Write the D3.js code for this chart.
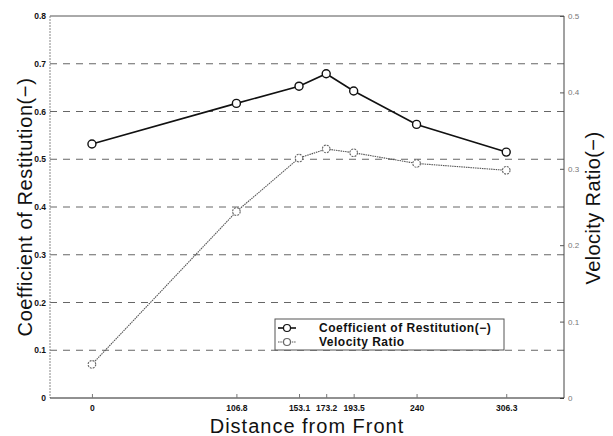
<!DOCTYPE html>
<html>
<head>
<meta charset="utf-8">
<script src="https://cdn.jsdelivr.net/npm/d3@7"></script>
<style>
  body { margin: 0; background: #fff; }
  svg { display: block; font-family: "Liberation Sans", Arial, sans-serif; }
</style>
</head>
<body>
<svg id="chart" width="613" height="436"></svg>
<script>
// chart values
var distances = [0, 106.8, 153.1, 173.2, 193.5, 240, 306.3];
var restitution = [0.532, 0.617, 0.653, 0.679, 0.643, 0.573, 0.515];
var velocityRatio = [0.044, 0.244, 0.314, 0.326, 0.321, 0.307, 0.298];
var leftTicks = [0, 0.1, 0.2, 0.3, 0.4, 0.5, 0.6, 0.7, 0.8];
var rightTicks = [0, 0.1, 0.2, 0.3, 0.4, 0.5];
var seriesNames = ["Coefficient of Restitution(\u2212)", "Velocity Ratio"];

var svg = d3.select("#chart");
var plot = { left: 50, right: 564, top: 16, bottom: 398 };

var x = d3.scaleLinear().domain([-31, 349]).range([plot.left, plot.right]);
var yLeft = d3.scaleLinear().domain([0, 0.8]).range([plot.bottom, plot.top]);
var yRight = d3.scaleLinear().domain([0, 0.5]).range([plot.bottom, plot.top]);

// dashed grid lines
svg.append("g")
	.selectAll("line")
	.data(leftTicks.filter(function(t) { return t > 0 && t < 0.8; }))
	.enter()
	.append("line")
	.attr("x1", plot.left).attr("x2", plot.right)
	.attr("y1", function(t) { return yLeft(t); })
	.attr("y2", function(t) { return yLeft(t); })
	.attr("stroke", "#666")
	.attr("stroke-width", 1)
	.attr("stroke-dasharray", "7,6");

// frame
svg.append("line").attr("x1", plot.left).attr("x2", plot.right)
	.attr("y1", plot.top).attr("y2", plot.top).attr("stroke", "#555");
svg.append("line").attr("x1", plot.left).attr("x2", plot.left)
	.attr("y1", plot.top).attr("y2", plot.bottom).attr("stroke", "#888")
	.attr("stroke-dasharray", "2,1");
svg.append("line").attr("x1", plot.right).attr("x2", plot.right)
	.attr("y1", plot.top).attr("y2", plot.bottom).attr("stroke", "#444");

// left axis
var leftAxis = svg.append("g")
	.attr("transform", "translate(" + plot.left + ",0)")
	.call(d3.axisLeft(yLeft).tickValues(leftTicks).tickSize(0).tickPadding(4)
		.tickFormat(function(d) { return d === 0 ? "0" : d3.format(".1f")(d); }));
leftAxis.select(".domain").remove();
leftAxis.selectAll("text").attr("font-size", 8.5).attr("fill", "#111").attr("font-weight", "bold");

// right axis
var rightAxis = svg.append("g")
	.attr("transform", "translate(" + plot.right + ",0)")
	.call(d3.axisRight(yRight).tickValues(rightTicks).tickSize(-4).tickPadding(4)
		.tickFormat(function(d) { return d === 0 ? "0" : d3.format(".1f")(d); }));
rightAxis.select(".domain").remove();
rightAxis.selectAll("line").attr("stroke", "#555");
rightAxis.selectAll("text").attr("font-size", 8).attr("fill", "#777");

// bottom axis
var bottomAxis = svg.append("g")
	.attr("transform", "translate(0," + plot.bottom + ")")
	.call(d3.axisBottom(x).tickValues(distances).tickSize(-4).tickPadding(7)
		.tickFormat(function(d) { return String(d); }));
bottomAxis.select(".domain").attr("stroke", "#222").attr("d", "M" + plot.left + ",0H" + plot.right);
bottomAxis.selectAll("line").attr("stroke", "#777");
bottomAxis.selectAll("text").attr("font-size", 8.5).attr("fill", "#111").attr("font-weight", "bold");

// series
var points = distances.map(function(d, i) {
	return { x: d, cor: restitution[i], vr: velocityRatio[i] };
});

var corLine = d3.line()
	.x(function(p) { return x(p.x); })
	.y(function(p) { return yLeft(p.cor); });
var vrLine = d3.line()
	.x(function(p) { return x(p.x); })
	.y(function(p) { return yRight(p.vr); });

svg.append("path").datum(points)
	.attr("d", vrLine).attr("fill", "none")
	.attr("stroke", "#555").attr("stroke-width", 1.1)
	.attr("stroke-dasharray", "1.5,0.8");
svg.append("g").selectAll("circle").data(points).enter()
	.append("circle")
	.attr("cx", function(p) { return x(p.x); })
	.attr("cy", function(p) { return yRight(p.vr); })
	.attr("r", 3.8)
	.attr("fill", "#fff").attr("stroke", "#666").attr("stroke-width", 1.1)
	.attr("stroke-dasharray", "2,1");

svg.append("path").datum(points)
	.attr("d", corLine).attr("fill", "none")
	.attr("stroke", "#111").attr("stroke-width", 1.6);
svg.append("g").selectAll("circle").data(points).enter()
	.append("circle")
	.attr("cx", function(p) { return x(p.x); })
	.attr("cy", function(p) { return yLeft(p.cor); })
	.attr("r", 4)
	.attr("fill", "#fff").attr("stroke", "#111").attr("stroke-width", 1.4);

// legend
var legend = svg.append("g").attr("transform", "translate(275,319)");
legend.append("rect").attr("width", 229).attr("height", 31)
	.attr("fill", "#fff").attr("stroke", "#555").attr("stroke-width", 1);
var rows = [
	{ y: 9, stroke: "#111", width: 1.6, dash: null, mstroke: "#111" },
	{ y: 23, stroke: "#555", width: 1.1, dash: "1.5,0.8", mstroke: "#666" }
];
rows.forEach(function(r, i) {
	legend.append("line").attr("x1", 3).attr("x2", 21).attr("y1", r.y).attr("y2", r.y)
		.attr("stroke", r.stroke).attr("stroke-width", r.width).attr("stroke-dasharray", r.dash);
	legend.append("circle").attr("cx", 12).attr("cy", r.y).attr("r", 3.5)
		.attr("fill", "#fff").attr("stroke", r.mstroke).attr("stroke-width", 1.2);
	legend.append("text").attr("x", 44).attr("y", r.y + 4)
		.attr("font-size", 12).attr("font-weight", "bold").attr("fill", "#111")
		.attr("letter-spacing", 0.5)
		.text(seriesNames[i]);
});

// axis titles
svg.append("text")
	.attr("transform", "translate(32,207) rotate(-90)")
	.attr("text-anchor", "middle").attr("font-size", 20).attr("fill", "#111")
	.attr("letter-spacing", 0.6)
	.text("Coefficient of Restitution(\u2212)");
svg.append("text")
	.attr("transform", "translate(600,208) rotate(-90)")
	.attr("text-anchor", "middle").attr("font-size", 20).attr("fill", "#111")
	.attr("letter-spacing", 0.4)
	.text("Velocity Ratio(\u2212)");
svg.append("text")
	.attr("x", 307).attr("y", 433)
	.attr("text-anchor", "middle").attr("font-size", 20).attr("fill", "#111")
	.attr("letter-spacing", 1)
	.text("Distance from Front");
</script>
</body>
</html>
